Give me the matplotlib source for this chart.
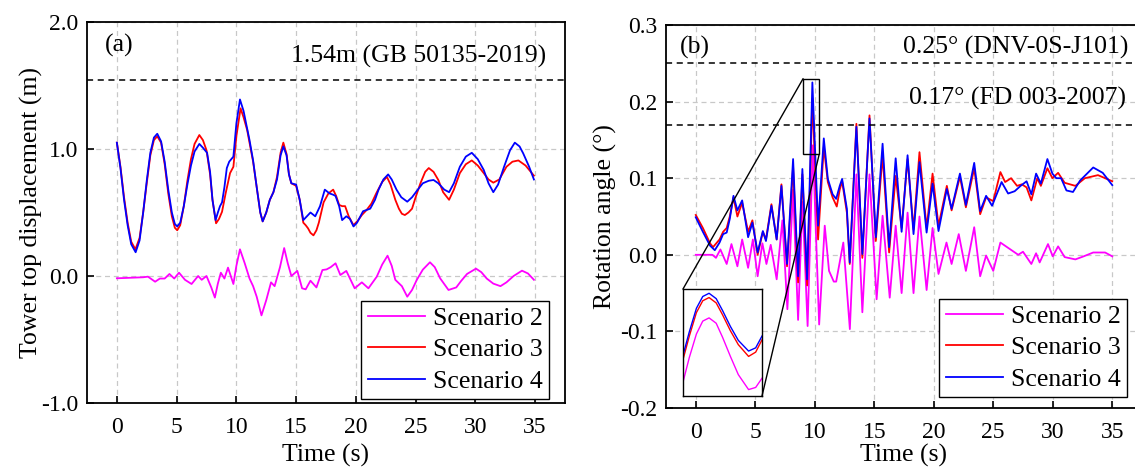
import matplotlib
matplotlib.use("Agg")
import matplotlib.pyplot as plt
from matplotlib.patches import Rectangle, ConnectionPatch

plt.rcParams['font.family'] = ['Liberation Serif', 'DejaVu Serif']

# ---- (a) tower top displacement ----
t_a2 = [0, 2.2, 2.6, 3.2, 3.6, 4.0, 4.4, 4.8, 5.2, 5.7, 6.25, 6.8, 7.1, 7.5, 7.9, 8.2, 8.45, 8.7, 9.0,
        9.3, 9.75, 10.0, 10.3, 10.7, 11.1, 11.4, 11.7, 12.1, 12.5, 12.9, 13.2, 13.65, 14.0, 14.3,
        14.6, 15.1, 15.5, 15.8, 16.2, 16.7, 17.2, 17.55, 17.9, 18.3, 18.7, 19.2, 19.9, 20.5, 21.05,
        21.75, 22.2, 22.65, 23.0, 23.3, 23.85, 24.3, 24.7, 25.1, 25.6, 26.2, 26.6, 27.05, 27.75,
        28.4, 28.8, 29.3, 30.05, 30.5, 30.95, 31.5, 32.1, 32.6, 33.2, 33.9, 34.4, 34.9]
v_a2 = [-0.018, -0.01, -0.005, -0.045, -0.02, -0.02, 0.016, -0.02, 0.026, -0.03, -0.063, 0.0, -0.03,
        0.0, -0.09, -0.17, -0.06, 0.026, -0.02, 0.066, -0.063, 0.08, 0.21, 0.1, -0.02, -0.08, -0.163,
        -0.31, -0.19, -0.05, -0.08, 0.07, 0.22, 0.1, 0.0, 0.04, -0.097, -0.105, -0.037, -0.09, 0.047,
        0.052, 0.07, 0.1, 0.008, 0.04, -0.097, -0.05, -0.097, -0.005, 0.09, 0.16, 0.08, -0.03, -0.08,
        -0.163, -0.11, -0.03, 0.05, 0.108, 0.07, -0.018, -0.11, -0.09, -0.04, 0.016, 0.058, 0.03,
        -0.02, -0.06, -0.08, -0.05, 0.0, 0.042, 0.02, -0.03]

t_a3 = [0, 0.3, 0.6, 0.9, 1.2, 1.55, 1.9, 2.2, 2.5, 2.8, 3.1, 3.38, 3.7, 4.0, 4.3, 4.6, 4.85, 5.05,
        5.3, 5.6, 5.9, 6.2, 6.5, 6.9, 7.2, 7.5, 7.8, 8.0, 8.3, 8.55, 8.8, 9.1, 9.47, 9.75, 10.0,
        10.35, 10.6, 10.9, 11.1, 11.4, 11.7, 12.0, 12.2, 12.5, 12.8, 13.1, 13.4, 13.7, 13.93, 14.2,
        14.4, 14.6, 15.0, 15.3, 15.6, 15.8, 16.0, 16.2, 16.45, 16.7, 16.9, 17.1, 17.3, 17.7, 18.1,
        18.35, 18.6, 18.85, 19.1, 19.4, 19.8, 20.2, 20.5, 20.9, 21.3, 21.7, 22.2, 22.6, 22.9, 23.3,
        23.6, 23.85, 24.1, 24.4, 24.7, 25.0, 25.4, 25.8, 26.1, 26.5, 26.9, 27.3, 27.8, 28.2, 28.7,
        29.2, 29.7, 30.2, 30.7, 31.1, 31.5, 32.0, 32.6, 33.1, 33.6, 34.2, 34.9]
v_a3 = [1.05, 0.86, 0.62, 0.42, 0.27, 0.21, 0.3, 0.5, 0.73, 0.95, 1.07, 1.10, 1.05, 0.88, 0.65,
        0.47, 0.38, 0.36, 0.4, 0.55, 0.75, 0.92, 1.04, 1.11, 1.07, 0.99, 0.8, 0.6, 0.415, 0.45,
        0.506, 0.65, 0.81, 0.86, 1.1, 1.32, 1.25, 1.15, 1.05, 0.9, 0.7, 0.5, 0.43, 0.5, 0.6, 0.66,
        0.78, 0.97, 1.05, 0.96, 0.8, 0.73, 0.71, 0.6, 0.42, 0.4, 0.375, 0.34, 0.32, 0.36, 0.42, 0.5,
        0.58, 0.65, 0.68, 0.63, 0.56, 0.55, 0.55, 0.47, 0.40, 0.44, 0.48, 0.52, 0.57, 0.65, 0.74,
        0.78, 0.72, 0.6, 0.53, 0.49, 0.48, 0.5, 0.53, 0.62, 0.73, 0.82, 0.85, 0.82, 0.756, 0.66,
        0.60, 0.68, 0.81, 0.88, 0.91, 0.87, 0.81, 0.76, 0.735, 0.76, 0.86, 0.9, 0.91, 0.87, 0.79]

t_a4 = [0, 0.3, 0.6, 0.9, 1.2, 1.57, 1.9, 2.2, 2.5, 2.8, 3.1, 3.38, 3.7, 4.0, 4.3, 4.6, 4.85, 5.05,
        5.3, 5.6, 5.9, 6.2, 6.5, 6.9, 7.2, 7.55, 7.8, 8.0, 8.26, 8.45, 8.63, 8.8, 9.0, 9.2, 9.4,
        9.75, 10.0, 10.3, 10.6, 10.86, 11.1, 11.4, 11.7, 12.0, 12.2, 12.5, 12.8, 13.1, 13.4, 13.7,
        13.93, 14.2, 14.4, 14.6, 15.0, 15.3, 15.6, 15.9, 16.2, 16.6, 17.0, 17.4, 17.8, 18.1, 18.3,
        18.6, 18.85, 19.2, 19.5, 19.8, 20.1, 20.6, 21.2, 21.6, 21.9, 22.3, 22.7, 23.0, 23.4, 23.8,
        24.3, 24.7, 25.1, 25.6, 26.1, 26.5, 26.9, 27.4, 27.8, 28.2, 28.7, 29.2, 29.7, 30.2, 30.7,
        31.1, 31.5, 31.9, 32.4, 32.9, 33.3, 33.7, 34.0, 34.5, 34.9]
v_a4 = [1.05, 0.85, 0.6, 0.4, 0.25, 0.187, 0.28, 0.5, 0.75, 0.97, 1.09, 1.12, 1.06, 0.9, 0.68, 0.5,
        0.41, 0.39, 0.42, 0.55, 0.72, 0.87, 0.98, 1.04, 1.01, 0.97, 0.82, 0.6, 0.44, 0.5, 0.55, 0.58,
        0.7, 0.85, 0.9, 0.94, 1.2, 1.39, 1.3, 1.18, 1.07, 0.91, 0.7, 0.5, 0.43, 0.5, 0.6, 0.66, 0.76,
        0.95, 1.02, 0.95, 0.8, 0.73, 0.72, 0.6, 0.44, 0.47, 0.50, 0.47, 0.55, 0.68, 0.65, 0.64, 0.63,
        0.55, 0.44, 0.47, 0.45, 0.39, 0.42, 0.51, 0.53, 0.6, 0.68, 0.76, 0.80, 0.76, 0.68, 0.62,
        0.585, 0.62, 0.67, 0.73, 0.75, 0.756, 0.73, 0.68, 0.66, 0.73, 0.86, 0.94, 0.97, 0.92, 0.835,
        0.73, 0.66, 0.72, 0.86, 0.99, 1.05, 1.02, 0.966, 0.86, 0.76]

# ---- (b) rotation angle ----
t_b2 = [0, 1.4, 1.7, 2.07, 2.6, 3.0, 3.5, 3.9, 4.4, 4.8, 5.2, 5.6, 5.94, 6.3, 6.8, 7.28, 7.7, 8.18,
        8.6, 8.97, 9.4, 9.84, 10.37, 10.84, 11.2, 11.4, 11.6, 11.8, 12.4, 12.95, 13.5, 14.0, 14.6,
        15.2, 15.7, 16.3, 16.8, 17.3, 17.8, 18.3, 18.8, 19.4, 19.9, 20.4, 21.07, 21.5, 22.1, 22.7,
        23.4, 23.9, 24.4, 25.0, 25.6, 26.2, 27.1, 27.5, 28.2, 28.6, 28.9, 29.6, 30.0, 30.45, 31.0,
        31.9, 32.6, 33.4, 34.4, 35.0]
v_b2 = [0, 0, -0.004, 0.007, -0.012, 0.014, -0.015, 0.02, -0.017, 0.02, -0.028, 0.015, -0.012,
        0.013, -0.032, 0.045, -0.071, 0.085, -0.085, 0.069, -0.093, 0.143, -0.091, 0.038, -0.021,
        -0.028, -0.035, -0.035, 0.016, -0.097, 0.105, -0.075, 0.105, -0.058, 0.051, -0.056, 0.038,
        -0.05, 0.055, -0.05, 0.05, -0.046, 0.035, -0.025, 0.016, -0.012, 0.027, -0.021, 0.036,
        -0.028, -0.001, -0.021, 0.016, 0.0096, 0.0, 0.004, -0.012, 0.002, -0.01, 0.014, -0.002,
        0.011, -0.003, -0.006, -0.002, 0.003, 0.003, -0.002]

t_b3 = [0, 0.6, 1.2, 1.45, 2.0, 2.3, 2.6, 2.86, 3.17, 3.5, 3.9, 4.4, 4.76, 5.2, 5.64, 5.9, 6.36,
        6.8, 7.2, 7.67, 8.18, 8.6, 8.96, 9.36, 9.8, 10.28, 10.76, 11.1, 11.5, 11.85, 12.1, 12.3,
        12.7, 12.94, 13.5, 14.0, 14.6, 15.13, 15.7, 16.25, 16.8, 17.3, 17.8, 18.3, 18.8, 19.4,
        19.9, 20.4, 21.1, 21.5, 22.2, 22.7, 23.4, 23.9, 24.4, 25.0, 25.6, 26.0, 26.5, 27.0, 27.4,
        27.8, 28.2, 28.7, 29.0, 29.55, 29.97, 30.45, 31.0, 31.9, 32.7, 33.8, 35.0]
v_b3 = [0.052, 0.035, 0.015, 0.01, 0.02, 0.03, 0.035, 0.05, 0.075, 0.05, 0.068, 0.03, 0.045, 0.0,
        0.03, 0.02, 0.066, 0.02, 0.092, -0.015, 0.115, -0.036, 0.105, -0.04, 0.204, 0.02, 0.141,
        0.095, 0.075, 0.063, 0.085, 0.096, 0.055, -0.012, 0.171, -0.004, 0.182, 0.018, 0.13, 0.003,
        0.103, 0.035, 0.125, 0.033, 0.134, 0.035, 0.106, 0.038, 0.09, 0.058, 0.102, 0.062, 0.113,
        0.053, 0.075, 0.07, 0.108, 0.095, 0.1, 0.09, 0.092, 0.088, 0.071, 0.1, 0.09, 0.113, 0.1,
        0.107, 0.094, 0.09, 0.1, 0.104, 0.096]

t_b4 = [0, 0.6, 1.2, 1.6, 2.0, 2.3, 2.6, 2.86, 3.17, 3.5, 3.9, 4.4, 4.76, 5.2, 5.64, 5.9, 6.36,
        6.8, 7.2, 7.67, 8.18, 8.6, 8.96, 9.36, 9.8, 10.28, 10.76, 11.1, 11.5, 11.8, 12.1, 12.3,
        12.7, 12.94, 13.5, 14.0, 14.6, 15.13, 15.7, 16.25, 16.8, 17.3, 17.8, 18.3, 18.8, 19.4,
        19.9, 20.4, 21.1, 21.5, 22.2, 22.7, 23.4, 23.9, 24.4, 24.9, 25.7, 26.25, 26.8, 27.3, 27.8,
        28.2, 28.6, 29.0, 29.55, 29.97, 30.3, 30.7, 31.15, 31.7, 32.3, 33.4, 34.2, 35.0]
v_b4 = [0.049, 0.03, 0.012, 0.006, 0.016, 0.027, 0.029, 0.047, 0.077, 0.058, 0.071, 0.023, 0.042,
        0.003, 0.031, 0.018, 0.064, 0.02, 0.09, -0.012, 0.125, -0.028, 0.112, -0.032, 0.225, 0.038,
        0.152, 0.099, 0.079, 0.073, 0.09, 0.099, 0.06, -0.01, 0.167, 0.001, 0.178, 0.023, 0.145,
        0.01, 0.126, 0.03, 0.13, 0.027, 0.121, 0.029, 0.093, 0.031, 0.086, 0.06, 0.106, 0.065, 0.12,
        0.057, 0.077, 0.064, 0.095, 0.08, 0.083, 0.09, 0.096, 0.079, 0.106, 0.093, 0.125, 0.106,
        0.1, 0.1, 0.084, 0.082, 0.097, 0.114, 0.107, 0.091]

# inset close-up of the peak near t = 10 s (normalised inset units)
u_ins = [0, 0.08, 0.17, 0.25, 0.33, 0.42, 0.5, 0.6, 0.7, 0.83, 0.92, 1.0]
w_ins2 = [0.13, 0.36, 0.58, 0.70, 0.73, 0.68, 0.55, 0.37, 0.20, 0.06, 0.08, 0.166]
w_ins3 = [0.34, 0.56, 0.78, 0.89, 0.92, 0.87, 0.76, 0.61, 0.48, 0.37, 0.41, 0.525]
w_ins4 = [0.38, 0.60, 0.82, 0.93, 0.96, 0.91, 0.80, 0.65, 0.52, 0.42, 0.45, 0.56]

labels = ['Scenario 2', 'Scenario 3', 'Scenario 4']
colors = ['#ff00ff', '#ff0000', '#0000ff']
xticks = [0, 5, 10, 15, 20, 25, 30, 35]

fig = plt.figure(figsize=(11.35, 4.68), dpi=100)
W, H = 1135.0, 468.0
ax1 = fig.add_axes([87 / W, 1 - 403 / H, 478 / W, 381 / H])
ax2 = fig.add_axes([666 / W, 1 - 408 / H, 476 / W, 383 / H])

FS = 18.5
TFS = 17


def style(ax, xlabpad):
    ax.set_xlim(-2.5, 37.5)
    ax.set_xticks(xticks)
    ax.grid(True, color='#c8c8c8', linestyle=(0, (4, 3)), linewidth=0.9)
    ax.set_axisbelow(True)
    ax.tick_params(direction='in', length=5, width=1.2, labelsize=TFS)
    ax.tick_params(axis='x', pad=10)
    ax.tick_params(axis='y', pad=6)
    for s in ax.spines.values():
        s.set_linewidth(1.3)
    ax.set_xlabel('Time (s)', fontsize=FS, labelpad=xlabpad)


def legend(ax, x, y):
    leg = ax.legend(loc='lower right', bbox_to_anchor=(x / W, 1 - y / H),
                    bbox_transform=fig.transFigure, fontsize=FS, frameon=True, fancybox=False,
                    edgecolor='black', handlelength=2.25, borderpad=0.24, labelspacing=0.33,
                    handletextpad=0.3, borderaxespad=0.0, framealpha=1.0)
    leg.get_frame().set_linewidth(1.0)


# panel (a)
for t, v, c, lab in zip([t_a2, t_a3, t_a4], [v_a2, v_a3, v_a4], colors, labels):
    ax1.plot(t, v, color=c, lw=1.3, label=lab)
style(ax1, 4.5)
ax1.set_ylim(-1.0, 2.0)
ax1.set_yticks([-1.0, 0.0, 1.0, 2.0])
ax1.set_yticklabels(['-1.0', '0.0', '1.0', '2.0'])
ax1.set_ylabel('Tower top displacement (m)', fontsize=FS, labelpad=-1)
ax1.axhline(1.54, color='black', ls=(0, (4, 3)), lw=1.1)
ax1.text(105, 468 - 45, '(a)', transform=None, fontsize=FS, va='center')
ax1.text(546, 468 - 56, '1.54m (GB 50135-2019)', transform=None, fontsize=FS,
         ha='right', va='center')
legend(ax1, 549, 399)

# panel (b)
for t, v, c, lab in zip([t_b2, t_b3, t_b4], [v_b2, v_b3, v_b4], colors, labels):
    ax2.plot(t, v, color=c, lw=1.3, label=lab)
style(ax2, 1)
ax2.set_ylim(-0.2, 0.3)
ax2.set_yticks([-0.2, -0.1, 0.0, 0.1, 0.2, 0.3])
ax2.set_yticklabels(['-0.2', '-0.1', '0.0', '0.1', '0.2', '0.3'])
ax2.set_ylabel('Rotation angle (°)', fontsize=FS, labelpad=2.5)
ax2.axhline(0.25, color='black', ls=(0, (4, 3)), lw=1.1)
ax2.axhline(0.17, color='black', ls=(0, (4, 3)), lw=1.1)
ax2.text(680, 468 - 47.5, '(b)', transform=None, fontsize=FS, va='center')
ax2.text(1128, 468 - 47, '0.25° (DNV-0S-J101)', transform=None, fontsize=FS,
         ha='right', va='center')
ax2.text(1126, 468 - 98, '0.17° (FD 003-2007)', transform=None, fontsize=FS,
         ha='right', va='center')
legend(ax2, 1127, 397)

# zoom box and inset
rect = Rectangle((9.02, 0.131), 1.35, 0.099, fill=False, edgecolor='black', lw=1.0, zorder=5)
ax2.add_patch(rect)
axins = fig.add_axes([683 / W, 1 - 396 / H, 79 / W, 107 / H])
for w, c in zip([w_ins2, w_ins3, w_ins4], colors):
    axins.plot(u_ins, w, color=c, lw=1.0)
axins.set_xlim(0, 1)
axins.set_ylim(0, 1)
axins.set_xticks([])
axins.set_yticks([])
for s in axins.spines.values():
    s.set_linewidth(1.0)
for (xa, ya), (xb, yb) in [((9.02, 0.23), (0, 1)), ((10.37, 0.131), (1, 0))]:
    con = ConnectionPatch(xyA=(xa, ya), coordsA=ax2.transData, xyB=(xb, yb),
                          coordsB=axins.transAxes, color='black', lw=1.0)
    fig.add_artist(con)

fig.savefig('out.png', dpi=100)
